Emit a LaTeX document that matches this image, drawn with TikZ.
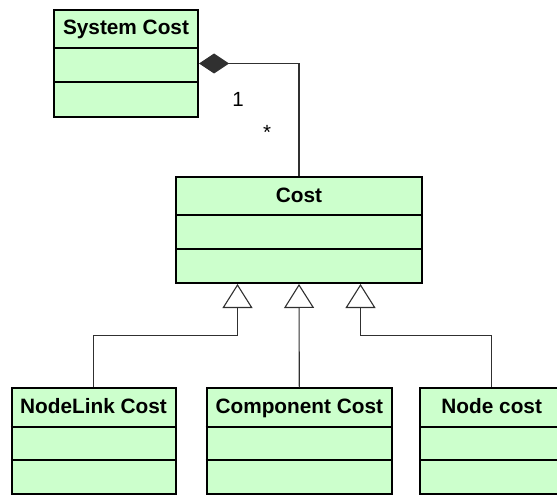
\documentclass[tikz,border=0pt]{standalone}
\usepackage{fontspec}
\setmainfont{Liberation Sans}
\usetikzlibrary{arrows.meta,calc}
\definecolor{classfill}{HTML}{CCFFCC}
\definecolor{linkgray}{HTML}{303030}
\tikzset{
  classbox/.style={draw=black, line width=2pt, fill=classfill, inner sep=0pt, rectangle},
  divider/.style={draw=black, line width=2pt},
  title/.style={font=\bfseries\fontsize{20.8}{24}\selectfont, inner sep=0pt, anchor=base},
  mult/.style={font=\fontsize{20.5}{24}\selectfont, inner sep=0pt},
  link/.style={draw=linkgray, line width=1.1pt},
  compose/.style={link, {Diamond[length=30pt,width=20pt]}-},
  inherit/.style={link, {Triangle[open,length=24pt,width=30pt,fill=white]}-},
}
\begin{document}
\begin{tikzpicture}[x=1pt,y=-1pt]
\useasboundingbox (0,0) rectangle (557,495);
\clip (0,0) rectangle (557,495);

% class boxes: full box, title on its baseline, and two compartment rules (offsets measured downwards)
\node[classbox, minimum width=144, minimum height=107] (sys) at (126,63.5) {};
\node[title] at ($(sys.north)+(0,26)$) {System Cost};
\draw[divider] ($(sys.north west)+(0,39.5)$) -- ($(sys.north east)+(0,39.5)$);
\draw[divider] ($(sys.north west)+(0,73)$) -- ($(sys.north east)+(0,73)$);

\node[classbox, minimum width=246, minimum height=106] (cost) at (299,230) {};
\node[title] at ($(cost.north)+(0,26)$) {Cost};
\draw[divider] ($(cost.north west)+(0,38.5)$) -- ($(cost.north east)+(0,38.5)$);
\draw[divider] ($(cost.north west)+(0,72.5)$) -- ($(cost.north east)+(0,72.5)$);

\node[classbox, minimum width=164, minimum height=106] (link) at (93.5,441.3) {};
\node[title] at ($(link.north)+(0,26.5)$) {NodeLink Cost};
\draw[divider] ($(link.north west)+(0,39.4)$) -- ($(link.north east)+(0,39.4)$);
\draw[divider] ($(link.north west)+(0,72.7)$) -- ($(link.north east)+(0,72.7)$);

\node[classbox, minimum width=185.3, minimum height=106] (comp) at (299.3,441.3) {};
\node[title] at ($(comp.north)+(0,26.5)$) {Component Cost};
\draw[divider] ($(comp.north west)+(0,39.4)$) -- ($(comp.north east)+(0,39.4)$);
\draw[divider] ($(comp.north west)+(0,72.7)$) -- ($(comp.north east)+(0,72.7)$);

\node[classbox, minimum width=143.4, minimum height=106] (node) at (491.7,441.3) {};
\node[title] at ($(node.north)+(0,26.5)$) {Node cost};
\draw[divider] ($(node.north west)+(0,39.4)$) -- ($(node.north east)+(0,39.4)$);
\draw[divider] ($(node.north west)+(0,72.7)$) -- ($(node.north east)+(0,72.7)$);

% composition: System Cost owns Cost
\draw[compose] (sys.east) -| (cost.north);
\node[mult] (one) at (238,99) {1};
\node[mult] (many) at (267,132) {*};

% generalisation: three specialised costs
\coordinate (busy) at (0,335.5);
\coordinate (tipL) at ($(cost.south)+(-61.5,0)$);
\coordinate (tipR) at ($(cost.south)+(61.5,0)$);
\draw[inherit] (tipL) -- (tipL |- busy) -| (link.north);
\draw[inherit] (cost.south) -- (comp.north);
\draw[inherit] (tipR) -- (tipR |- busy) -| (node.north);
\end{tikzpicture}
\end{document}
